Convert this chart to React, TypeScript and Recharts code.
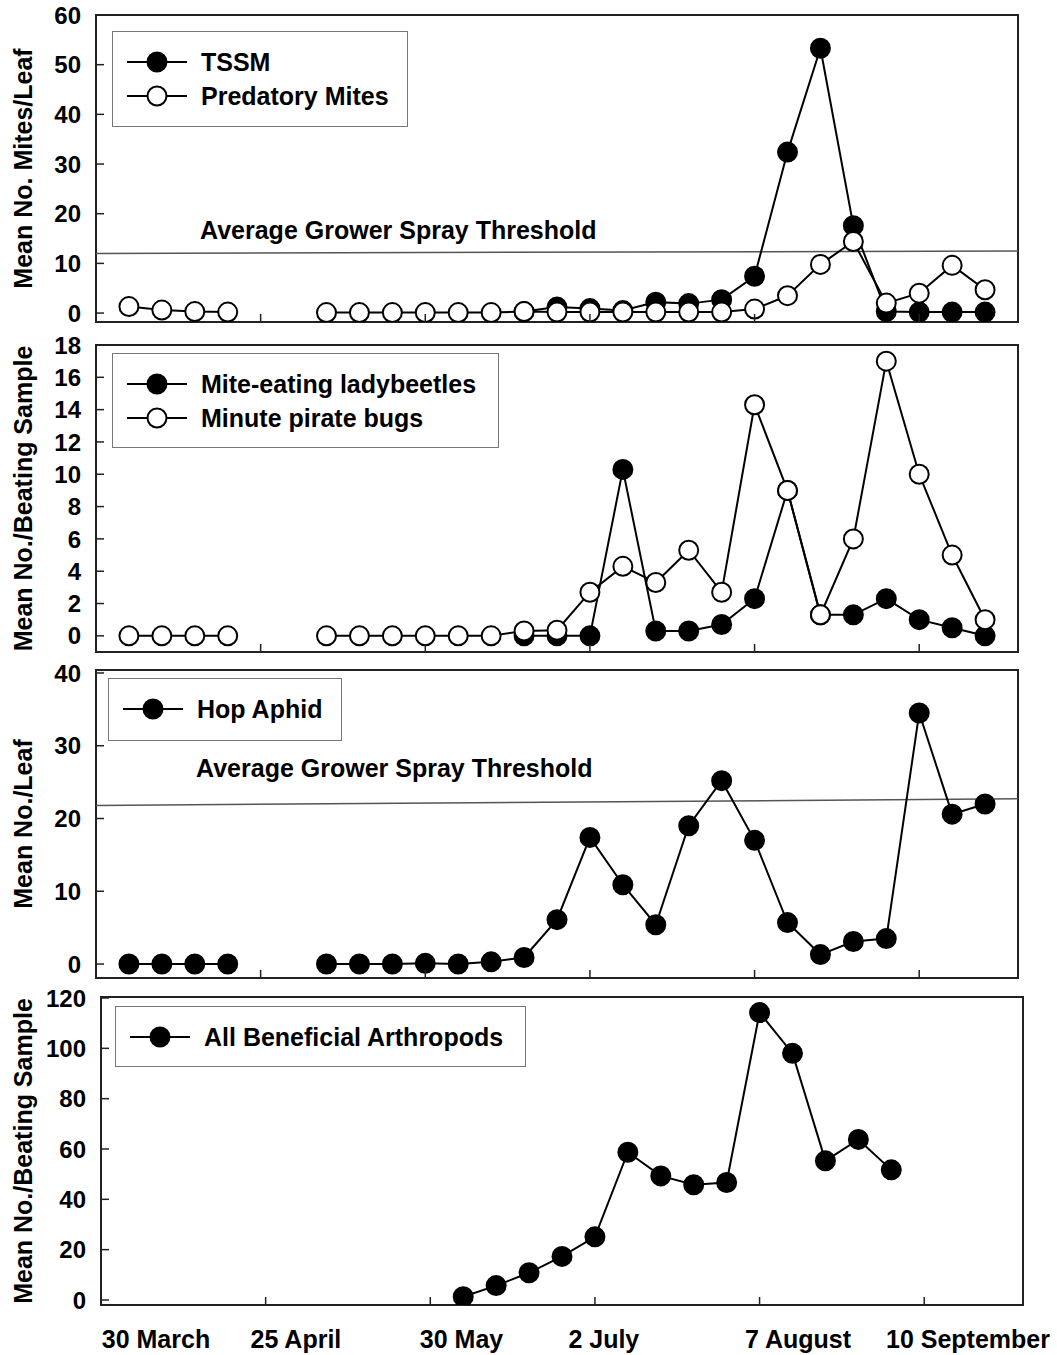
import React from 'react';
import {
  LineChart, Line, XAxis, YAxis, ReferenceArea, ReferenceLine,
  ReferenceDot, Legend, Label,
} from 'recharts';

// weekly sample index; weeks 4 and 5 were not sampled
const weeks = [0, 1, 2, 3, 4, 5, 6, 7, 8, 9, 10, 11, 12, 13, 14, 15, 16, 17, 18, 19, 20, 21, 22, 23, 24, 25, 26];

const tssm = [null, null, null, null, null, null, null, null, null, null, null, null, 0.3, 1.2, 0.9, 0.5, 2.2, 1.9, 2.7, 7.4, 32.4, 53.3, 17.6, 0.3, 0.2, 0.2, 0.2];
const predatoryMites = [1.3, 0.6, 0.3, 0.2, null, null, 0.1, 0.1, 0.1, 0.1, 0.1, 0.1, 0.3, 0.2, 0.2, 0.2, 0.2, 0.2, 0.2, 0.8, 3.5, 9.8, 14.4, 2.0, 4.0, 9.6, 4.7];
const ladybeetles = [null, null, null, null, null, null, null, null, null, null, null, null, 0, 0, 0, 10.3, 0.3, 0.3, 0.7, 2.3, 9.0, 1.3, 1.3, 2.3, 1.0, 0.5, 0];
const pirateBugs = [0, 0, 0, 0, null, null, 0, 0, 0, 0, 0, 0, 0.3, 0.35, 2.7, 4.3, 3.3, 5.3, 2.7, 14.3, 9.0, 1.3, 6.0, 17.0, 10.0, 5.0, 1.0];
const hopAphid = [0, 0, 0, 0, null, null, 0, 0, 0, 0.1, 0, 0.3, 0.9, 6.1, 17.4, 10.9, 5.4, 19.0, 25.2, 17.0, 5.7, 1.3, 3.1, 3.5, 34.5, 20.6, 22.0];
const beneficials = [null, null, null, null, null, null, null, null, null, null, 1.3, 5.7, 10.8, 17.3, 25.1, 58.7, 49.3, 45.8, 46.7, 114.2, 98.0, 55.3, 63.8, 51.7, null, null, null];

// spray thresholds (value at left edge, value at right edge - the drawn line is slightly tilted)
const miteThreshold = [12.0, 12.5];
const aphidThreshold = [21.8, 22.7];
const thresholdText = 'Average Grower Spray Threshold';

const tickWeeks = [4, 9, 14, 19, 24];
const dateLabels = ['30 March', '25 April', '30 May', '2 July', '7 August', '10 September'];
const dateLabelWeeks = [0.67, 4.92, 9.95, 14.27, 20.17, 25.33];

const X_DOMAIN: [number, number] = [-1, 27];
const FONT = '"Liberation Sans", Arial, Helvetica, sans-serif';
const W = 1057;

type Series = { key: string; name: string; values: (number | null)[]; open: boolean };

const YTick = (props: any) => {
  const { x, y, payload } = props;
  return (
    <g>
      <line x1={x + 15} x2={x + 23} y1={y} y2={y} stroke="#222" strokeWidth={1.5} />
      <text x={x} y={y} dy="0.36em" textAnchor="end" fontSize={24} fontWeight="bold" fontFamily={FONT} fill="#000">
        {payload.value}
      </text>
    </g>
  );
};

const XMark = (props: any) => {
  const { x, y } = props;
  return <line x1={x} x2={x} y1={y} y2={y - 8} stroke="#222" strokeWidth={1.5} />;
};

const DateTick = (props: any) => {
  const { x, y, payload } = props;
  const i = dateLabelWeeks.indexOf(payload.value);
  return (
    <text x={x} y={y} textAnchor="middle" fontSize={25} fontWeight="bold" fontFamily={FONT} fill="#000">
      {dateLabels[i]}
    </text>
  );
};

function LegendBox({ series, width, height }: { series: Series[]; width: number; height: number }) {
  return (
    <div style={{
      width, height, boxSizing: 'border-box', border: '1.5px solid #777', background: '#fff',
      paddingTop: 13, fontFamily: FONT, fontWeight: 'bold', fontSize: 25, color: '#000',
    }}>
      {series.map((s) => (
        <div key={s.key} style={{ display: 'flex', alignItems: 'center', height: 34, paddingLeft: 14 }}>
          <svg width={60} height={24} style={{ display: 'block' }}>
            <line x1={0} x2={60} y1={12} y2={12} stroke="#000" strokeWidth={2} />
            <circle cx={30} cy={12} r={9.5} fill={s.open ? '#fff' : '#000'} stroke="#000" strokeWidth={2} />
          </svg>
          <span style={{ marginLeft: 14, lineHeight: '34px' }}>{s.name}</span>
        </div>
      ))}
    </div>
  );
}

type PanelProps = {
  plotTop: number;
  plotHeight: number;
  axisWidth: number;
  rightMargin: number;
  yDomain: [number, number];
  yTicks: number[];
  yTitle: string;
  series: Series[];
  legend: { left: number; top: number; width: number; height: number };
  threshold?: { ends: number[]; labelX: number; labelY: number };
  showDates?: boolean;
};

function Panel(p: PanelProps) {
  const top = p.plotTop - 20;
  const height = 20 + p.plotHeight + 1 + (p.showDates ? 45 : 0) + 10;
  const data = weeks.map((w, i) => {
    const row: Record<string, number | null> = { week: w };
    p.series.forEach((s) => (row[s.key] = s.values[i]));
    return row;
  });
  // filled series first so open circles sit on top
  const ordered = [...p.series].sort((a, b) => Number(a.open) - Number(b.open));

  return (
    <div style={{ position: 'absolute', left: 0, top }}>
      <LineChart width={W} height={height} data={data}
        margin={{ top: 20, right: p.rightMargin, left: 0, bottom: 10 }}>
        <XAxis dataKey="week" type="number" domain={X_DOMAIN} allowDataOverflow ticks={tickWeeks}
          interval={0} height={1} tickSize={0} tickMargin={0} axisLine={false} tickLine={false} tick={<XMark />} />
        {p.showDates && (
          <XAxis xAxisId="dates" dataKey="week" type="number" domain={X_DOMAIN} allowDataOverflow ticks={dateLabelWeeks}
            interval={0} height={45} tickSize={0} tickMargin={42} axisLine={false} tickLine={false} tick={<DateTick />} />
        )}
        <YAxis type="number" domain={p.yDomain} allowDataOverflow ticks={p.yTicks} interval={0}
          width={p.axisWidth} tickSize={0} tickMargin={15} axisLine={false} tickLine={false} tick={<YTick />}>
          <Label content={(lp: any) => {
            const vb = lp.viewBox;
            const cx = vb.x + 22.5;
            const cy = vb.y + vb.height / 2;
            return (
              <text x={cx} y={cy} transform={`rotate(-90 ${cx} ${cy})`} textAnchor="middle" dominantBaseline="central"
                fontSize={25} fontWeight="bold" fontFamily={FONT} fill="#000">{p.yTitle}</text>
            );
          }} />
        </YAxis>
        <ReferenceArea x1={X_DOMAIN[0]} x2={X_DOMAIN[1]} y1={p.yDomain[0]} y2={p.yDomain[1]}
          fill="none" stroke="#222" strokeWidth={2} ifOverflow="visible" />
        {p.threshold && (
          <ReferenceLine
            segment={[{ x: X_DOMAIN[0], y: p.threshold.ends[0] }, { x: X_DOMAIN[1], y: p.threshold.ends[1] }]}
            stroke="#555" strokeWidth={1.5} ifOverflow="visible" />
        )}
        {p.threshold && (
          <ReferenceDot x={p.threshold.labelX} y={p.threshold.labelY} r={0} fill="none" stroke="none" ifOverflow="visible"
            label={{ value: thresholdText, position: 'right', offset: 0, fill: '#000', fontSize: 25, fontWeight: 'bold', fontFamily: FONT }} />
        )}
        {ordered.map((s) => (
          <Line key={s.key} dataKey={s.key} name={s.name} stroke="#000" strokeWidth={2}
            dot={{ r: 9.5, fill: s.open ? '#fff' : '#000', stroke: '#000', strokeWidth: 2 }}
            activeDot={false} isAnimationActive={false} connectNulls={false} />
        ))}
        <Legend layout="horizontal" verticalAlign="middle" align="center"
          wrapperStyle={{ left: p.legend.left, top: p.legend.top - top, width: 'auto' }}
          content={() => <LegendBox series={p.series} width={p.legend.width} height={p.legend.height} />} />
      </LineChart>
    </div>
  );
}

export default function App() {
  return (
    <div style={{ position: 'absolute', left: 0, top: 0, width: W, height: 1355, background: '#fff', overflow: 'hidden' }}>
      <Panel plotTop={15} plotHeight={307} axisWidth={96} rightMargin={39}
        yDomain={[-1.8, 60]} yTicks={[0, 10, 20, 30, 40, 50, 60]} yTitle="Mean No. Mites/Leaf"
        series={[
          { key: 'tssm', name: 'TSSM', values: tssm, open: false },
          { key: 'pred', name: 'Predatory Mites', values: predatoryMites, open: true },
        ]}
        legend={{ left: 112, top: 31, width: 296, height: 96 }}
        threshold={{ ends: miteThreshold, labelX: 2.16, labelY: 16.66 }} />
      <Panel plotTop={345} plotHeight={307} axisWidth={96} rightMargin={39}
        yDomain={[-1, 18]} yTicks={[0, 2, 4, 6, 8, 10, 12, 14, 16, 18]} yTitle="Mean No./Beating Sample"
        series={[
          { key: 'lady', name: 'Mite-eating ladybeetles', values: ladybeetles, open: false },
          { key: 'pirate', name: 'Minute pirate bugs', values: pirateBugs, open: true },
        ]}
        legend={{ left: 112, top: 353, width: 387, height: 95 }} />
      <Panel plotTop={670} plotHeight={308} axisWidth={96} rightMargin={39}
        yDomain={[-1.92, 40.41]} yTicks={[0, 10, 20, 30, 40]} yTitle="Mean No./Leaf"
        series={[{ key: 'aphid', name: 'Hop Aphid', values: hopAphid, open: false }]}
        legend={{ left: 108, top: 678, width: 234, height: 63 }}
        threshold={{ ends: aphidThreshold, labelX: 2.04, labelY: 26.9 }} />
      <Panel plotTop={997} plotHeight={308} axisWidth={101} rightMargin={34}
        yDomain={[-2, 120.4]} yTicks={[0, 20, 40, 60, 80, 100, 120]} yTitle="Mean No./Beating Sample"
        series={[{ key: 'ben', name: 'All Beneficial Arthropods', values: beneficials, open: false }]}
        legend={{ left: 115, top: 1006, width: 411, height: 61 }}
        showDates />
    </div>
  );
}
